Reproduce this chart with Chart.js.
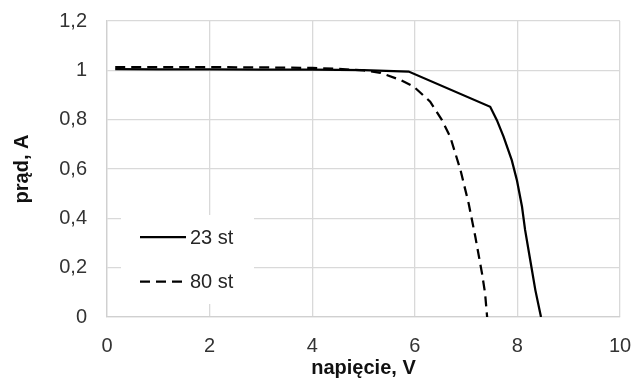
<!DOCTYPE html>
<html>
<head>
<meta charset="utf-8">
<script src="https://cdn.jsdelivr.net/npm/chart.js@4/dist/chart.umd.min.js"></script>
<style>
html,body{margin:0;padding:0;background:#fff;}
#wrap{width:635px;height:381px;position:relative;}
</style>
</head>
<body>
<div id="wrap"><canvas id="c" width="635" height="381"></canvas></div>
<script>
// Series names
const seriesNames = ['23 st', '80 st'];
// 23 st: voltage (V) and current (A)
const volt23 = [0.16, 1, 2, 3, 4, 5, 5.88, 7.47, 7.60, 7.73, 7.89, 7.99, 8.09, 8.15, 8.25, 8.35, 8.46];
const curr23 = [1.005, 1.004, 1.004, 1.003, 1.003, 1.001, 0.995, 0.852, 0.798, 0.731, 0.636, 0.555, 0.447, 0.353, 0.231, 0.109, 0];
// 80 st: voltage (V) and current (A)
const volt80 = [0.16, 1, 2, 3, 4, 4.5, 5.0, 5.33, 5.72, 5.98, 6.30, 6.53, 6.69, 6.89, 7.05, 7.18, 7.31, 7.37, 7.41];
const curr80 = [1.013, 1.013, 1.013, 1.012, 1.01, 1.006, 1.0, 0.99, 0.961, 0.934, 0.873, 0.798, 0.731, 0.596, 0.46, 0.325, 0.177, 0.096, 0];
// Axis ranges / tick steps
const xTicks = [0, 2, 4, 6, 8, 10];
const yTicks = [0, 0.2, 0.4, 0.6, 0.8, 1, 1.2];
const xTitle = 'napięcie, V';
const yTitle = 'prąd, A';

function toPoints(xs, ys){ return xs.map((x,i)=>({x:x, y:ys[i]})); }
function fmt(v){ return String(Math.round(v*10)/10).replace('.', ','); }

const dashes = [[], [10, 6]];
const FONT = "'Liberation Sans', Arial, sans-serif";

const legendPlugin = {
  id: 'insideLegend',
  afterDatasetsDraw(chart){
    const ctx = chart.ctx;
    const a = chart.chartArea;
    const bx = a.left + 14, by = a.top + 194, bw = 133, bh = 89;
    ctx.save();
    ctx.fillStyle = '#ffffff';
    ctx.fillRect(bx, by, bw, bh);
    chart.data.datasets.forEach((ds, i) => {
      const y = by + 22 + i * 44.5;
      ctx.beginPath();
      ctx.setLineDash(ds.borderDash || []);
      ctx.strokeStyle = ds.borderColor;
      ctx.lineWidth = ds.borderWidth;
      ctx.moveTo(bx + 19, y);
      ctx.lineTo(bx + 65, y);
      ctx.stroke();
      ctx.setLineDash([]);
      ctx.fillStyle = '#262626';
      ctx.font = '20px ' + FONT;
      ctx.textBaseline = 'middle';
      ctx.textAlign = 'left';
      ctx.fillText(ds.label, bx + 69, y + 1);
    });
    ctx.restore();
  }
};

const datasets = [
  {label: seriesNames[0], data: toPoints(volt23, curr23)},
  {label: seriesNames[1], data: toPoints(volt80, curr80)}
].map((d, i) => Object.assign(d, {
  showLine: true,
  borderColor: '#000000',
  backgroundColor: '#000000',
  borderWidth: 2.25,
  borderDash: dashes[i],
  pointRadius: 0,
  tension: 0,
  fill: false
}));

new Chart(document.getElementById('c'), {
  type: 'scatter',
  data: {datasets},
  options: {
    responsive: false,
    animation: false,
    devicePixelRatio: 1,
    layout: {padding: {top: 21, right: 15, left: 0, bottom: 0}},
    plugins: {legend: {display: false}, tooltip: {enabled: false}},
    scales: {
      x: {
        type: 'linear', min: xTicks[0], max: xTicks[xTicks.length-1],
        afterBuildTicks(s){ s.ticks = xTicks.map(v=>({value:v})); },
        afterFit(s){ s.height = 64; s.paddingLeft = 0; s.paddingRight = 0; },
        grid: {color: '#d9d9d9', lineWidth: 1.3, drawTicks: false},
        border: {color: '#d0d0d0', width: 1.3},
        ticks: {padding: 17, color: '#333333', font: {family: FONT, size: 20}, maxRotation: 0, callback: v => fmt(v)},
        title: {display: true, text: xTitle, color: '#111111', font: {family: FONT, size: 20, weight: 'bold'}, padding: {top: 0, bottom: 1}}
      },
      y: {
        type: 'linear', min: yTicks[0], max: yTicks[yTicks.length-1],
        afterBuildTicks(s){ s.ticks = yTicks.map(v=>({value:v})); },
        afterFit(s){ s.width = 107; s.paddingTop = 0; s.paddingBottom = 0; },
        grid: {color: '#d9d9d9', lineWidth: 1.3, drawTicks: false},
        border: {color: '#d0d0d0', width: 1.3},
        ticks: {padding: 20, color: '#333333', font: {family: FONT, size: 20}, callback: v => fmt(v)},
        title: {display: true, text: yTitle, color: '#111111', font: {family: FONT, size: 20, weight: 'bold'}, padding: {top: 10, bottom: 0}}
      }
    }
  },
  plugins: [legendPlugin]
});
</script>
</body>
</html>
